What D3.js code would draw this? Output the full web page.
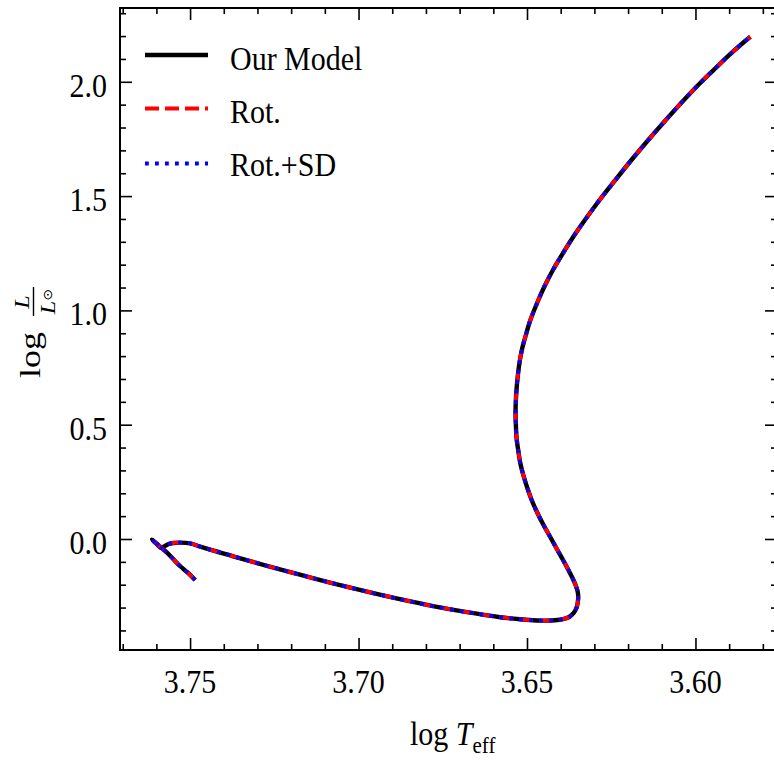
<!DOCTYPE html>
<html>
<head>
<meta charset="utf-8">
<script src="https://cdn.jsdelivr.net/npm/d3@7"></script>
<style>
  html, body { margin: 0; padding: 0; background: #fff; }
  svg { display: block; }
  text { font-family: "Liberation Serif", "Times New Roman", serif; fill: #000; }
</style>
</head>
<body>
<svg id="chart" width="774" height="760"></svg>
<script>
// ---- data ----
const logTeff = [
  3.7485, 3.7506, 3.7530, 3.7553, 3.7574, 3.7595, 3.7613, 3.7598, 3.7586, 3.7577,
  3.7565, 3.7550, 3.7530, 3.7500, 3.7470, 3.7372, 3.7272, 3.7174, 3.7076, 3.6975,
  3.6877, 3.6779, 3.6678, 3.6580, 3.6521, 3.6482, 3.6447, 3.6417, 3.6393, 3.6375,
  3.6362, 3.6353, 3.6349, 3.6348, 3.6350, 3.6357, 3.6371, 3.6393, 3.6413, 3.6431,
  3.6451, 3.6469, 3.6485, 3.6497, 3.6511, 3.6520, 3.6527, 3.6531, 3.6533, 3.6534,
  3.6533, 3.6530, 3.6526, 3.6521, 3.6514, 3.6505, 3.6492, 3.6470, 3.6449, 3.6423,
  3.6393, 3.6363, 3.6326, 3.6289, 3.6240, 3.6190, 3.6140, 3.6088, 3.6037, 3.5986,
  3.5937, 3.5893, 3.5856, 3.5837
];
const logL = [
  -0.1794, -0.1487, -0.1181, -0.0831, -0.0525, -0.0262, -0.0022, -0.0241, -0.0394, -0.0328,
  -0.0227, -0.0175, -0.0157, -0.0188, -0.0337, -0.0757, -0.1172, -0.1562, -0.1938, -0.2301,
  -0.2633, -0.2935, -0.3202, -0.3421, -0.3513, -0.3552, -0.3570, -0.3556, -0.3508, -0.3412,
  -0.3246, -0.3010, -0.2734, -0.2493, -0.2275, -0.1969, -0.1531, -0.0919, -0.0394, 0.0087,
  0.0612, 0.1137, 0.1662, 0.2144, 0.2800, 0.3325, 0.3981, 0.4418, 0.4987, 0.5512,
  0.6080, 0.6737, 0.7305, 0.7830, 0.8355, 0.8836, 0.9493, 1.0324, 1.1024, 1.1767,
  1.2511, 1.3211, 1.3998, 1.4742, 1.5661, 1.6579, 1.7454, 1.8329, 1.9160, 1.9948,
  2.0647, 2.1260, 2.1741, 2.1973
];
// the three models overlap exactly in the figure
const ourModelL = logL;
const rotL = logL;
const rotSdL = logL;

const seriesNames = ["Our Model", "Rot.", "Rot.+SD"];
const xTickValues = [3.75, 3.70, 3.65, 3.60];
const yTickValues = [0.0, 0.5, 1.0, 1.5, 2.0];

// ---- layout ----
const svg = d3.select("#chart");
const mLeft = 120, mRight = 777, mTop = 8, mBottom = 650;

const x = d3.scaleLinear().domain([3.7708, 3.5758]).range([mLeft, mRight]);
const y = d3.scaleLinear().domain([-0.4856, 2.3228]).range([mBottom, mTop]);

const xMinor = d3.range(3.58, 3.775, 0.01).map(v => +v.toFixed(2)).filter(v => !xTickValues.some(t => Math.abs(t - v) < 1e-6));
const yMinor = d3.range(-0.4, 2.35, 0.1).map(v => +v.toFixed(1)).filter(v => !yTickValues.some(t => Math.abs(t - v) < 1e-6));

function styleAxis(g) {
  g.select(".domain").remove();
  g.selectAll("line").attr("stroke", "#000").attr("stroke-width", 1.6);
  g.selectAll("text").remove();
}
const MAJ = 12, MIN = 6;
// bottom
svg.append("g").attr("transform", `translate(0,${mBottom})`)
  .call(d3.axisBottom(x).tickValues(xTickValues).tickSize(-MAJ).tickSizeOuter(0)).call(styleAxis);
svg.append("g").attr("transform", `translate(0,${mBottom})`)
  .call(d3.axisBottom(x).tickValues(xMinor).tickSize(-MIN).tickSizeOuter(0)).call(styleAxis);
// top
svg.append("g").attr("transform", `translate(0,${mTop})`)
  .call(d3.axisTop(x).tickValues(xTickValues).tickSize(-MAJ).tickSizeOuter(0)).call(styleAxis);
svg.append("g").attr("transform", `translate(0,${mTop})`)
  .call(d3.axisTop(x).tickValues(xMinor).tickSize(-MIN).tickSizeOuter(0)).call(styleAxis);
// left
svg.append("g").attr("transform", `translate(${mLeft},0)`)
  .call(d3.axisLeft(y).tickValues(yTickValues).tickSize(-MAJ).tickSizeOuter(0)).call(styleAxis);
svg.append("g").attr("transform", `translate(${mLeft},0)`)
  .call(d3.axisLeft(y).tickValues(yMinor).tickSize(-MIN).tickSizeOuter(0)).call(styleAxis);
// right
svg.append("g").attr("transform", `translate(${mRight},0)`)
  .call(d3.axisRight(y).tickValues(yTickValues).tickSize(-MAJ).tickSizeOuter(0)).call(styleAxis);
svg.append("g").attr("transform", `translate(${mRight},0)`)
  .call(d3.axisRight(y).tickValues(yMinor).tickSize(-MIN).tickSizeOuter(0)).call(styleAxis);

// frame
svg.append("rect").attr("x", mLeft).attr("y", mTop)
  .attr("width", mRight - mLeft).attr("height", mBottom - mTop)
  .attr("fill", "none").attr("stroke", "#000").attr("stroke-width", 2);

// text helper (reference text is slightly stretched vertically)
function txt(xp, yp, s, size, anchor) {
  return svg.append("text")
    .attr("transform", `translate(${xp},${yp}) scale(1,1.1)`)
    .attr("font-size", size).attr("text-anchor", anchor || "start").text(s);
}

// tick labels
xTickValues.forEach(v => txt(x(v), 693, d3.format(".2f")(v), 30, "middle"));
yTickValues.forEach(v => txt(107, y(v) + 15, d3.format(".1f")(v), 30, "end"));

// x axis label
const xl = svg.append("text").attr("transform", "translate(410,745) scale(1,1.1)").attr("font-size", 30);
xl.append("tspan").text("log ");
xl.append("tspan").attr("font-style", "italic").text("T");
xl.append("tspan").attr("font-size", 21).attr("dy", 7).text("eff");

// y axis label (rotated)
svg.append("text").attr("transform", "translate(40,378) rotate(-90) scale(1.2,1)")
  .attr("font-size", 30).text("log");
svg.append("text").attr("transform", "translate(29,302) rotate(-90) scale(1.1,1)")
  .attr("font-size", 22).attr("font-style", "italic").attr("text-anchor", "middle").text("L");
svg.append("line").attr("x1", 33.5).attr("x2", 33.5).attr("y1", 287).attr("y2", 316)
  .attr("stroke", "#000").attr("stroke-width", 1.4);
const den = svg.append("text").attr("transform", "translate(55,301.5) rotate(-90) scale(1.1,1)")
  .attr("font-size", 22).attr("text-anchor", "middle");
den.append("tspan").attr("font-style", "italic").text("L");
den.append("tspan").attr("font-size", 13).attr("dy", -3).attr("font-family", "DejaVu Sans").text("⊙");

// curves
svg.append("clipPath").attr("id", "clip").append("rect")
  .attr("x", mLeft).attr("y", mTop).attr("width", mRight - mLeft).attr("height", mBottom - mTop);

const styles = [
  { name: seriesNames[0], L: ourModelL, color: "#000000", width: 4.4, dash: null },
  { name: seriesNames[1], L: rotL, color: "#ff0000", width: 3.8, dash: "14,6" },
  { name: seriesNames[2], L: rotSdL, color: "#0000ff", width: 3.8, dash: "3.8,6.2" }
];
const line = d3.line().x(d => x(d[0])).y(d => y(d[1])).curve(d3.curveCatmullRom.alpha(0.5));
const plot = svg.append("g").attr("clip-path", "url(#clip)");
styles.forEach(s => {
  plot.append("path")
    .datum(logTeff.map((t, i) => [t, s.L[i]]))
    .attr("d", line)
    .attr("fill", "none")
    .attr("stroke", s.color)
    .attr("stroke-width", s.width)
    .attr("stroke-dasharray", s.dash)
    .attr("stroke-linejoin", "round");
});

// legend
const legY = [55, 108.5, 163.5];
const legTextY = [69.5, 122.5, 176];
styles.forEach((s, i) => {
  svg.append("line").attr("x1", 145).attr("x2", 208).attr("y1", legY[i]).attr("y2", legY[i])
    .attr("stroke", s.color).attr("stroke-width", s.width).attr("stroke-dasharray", s.dash);
  txt(230, legTextY[i], s.name, 30, "start");
});
</script>
</body>
</html>
